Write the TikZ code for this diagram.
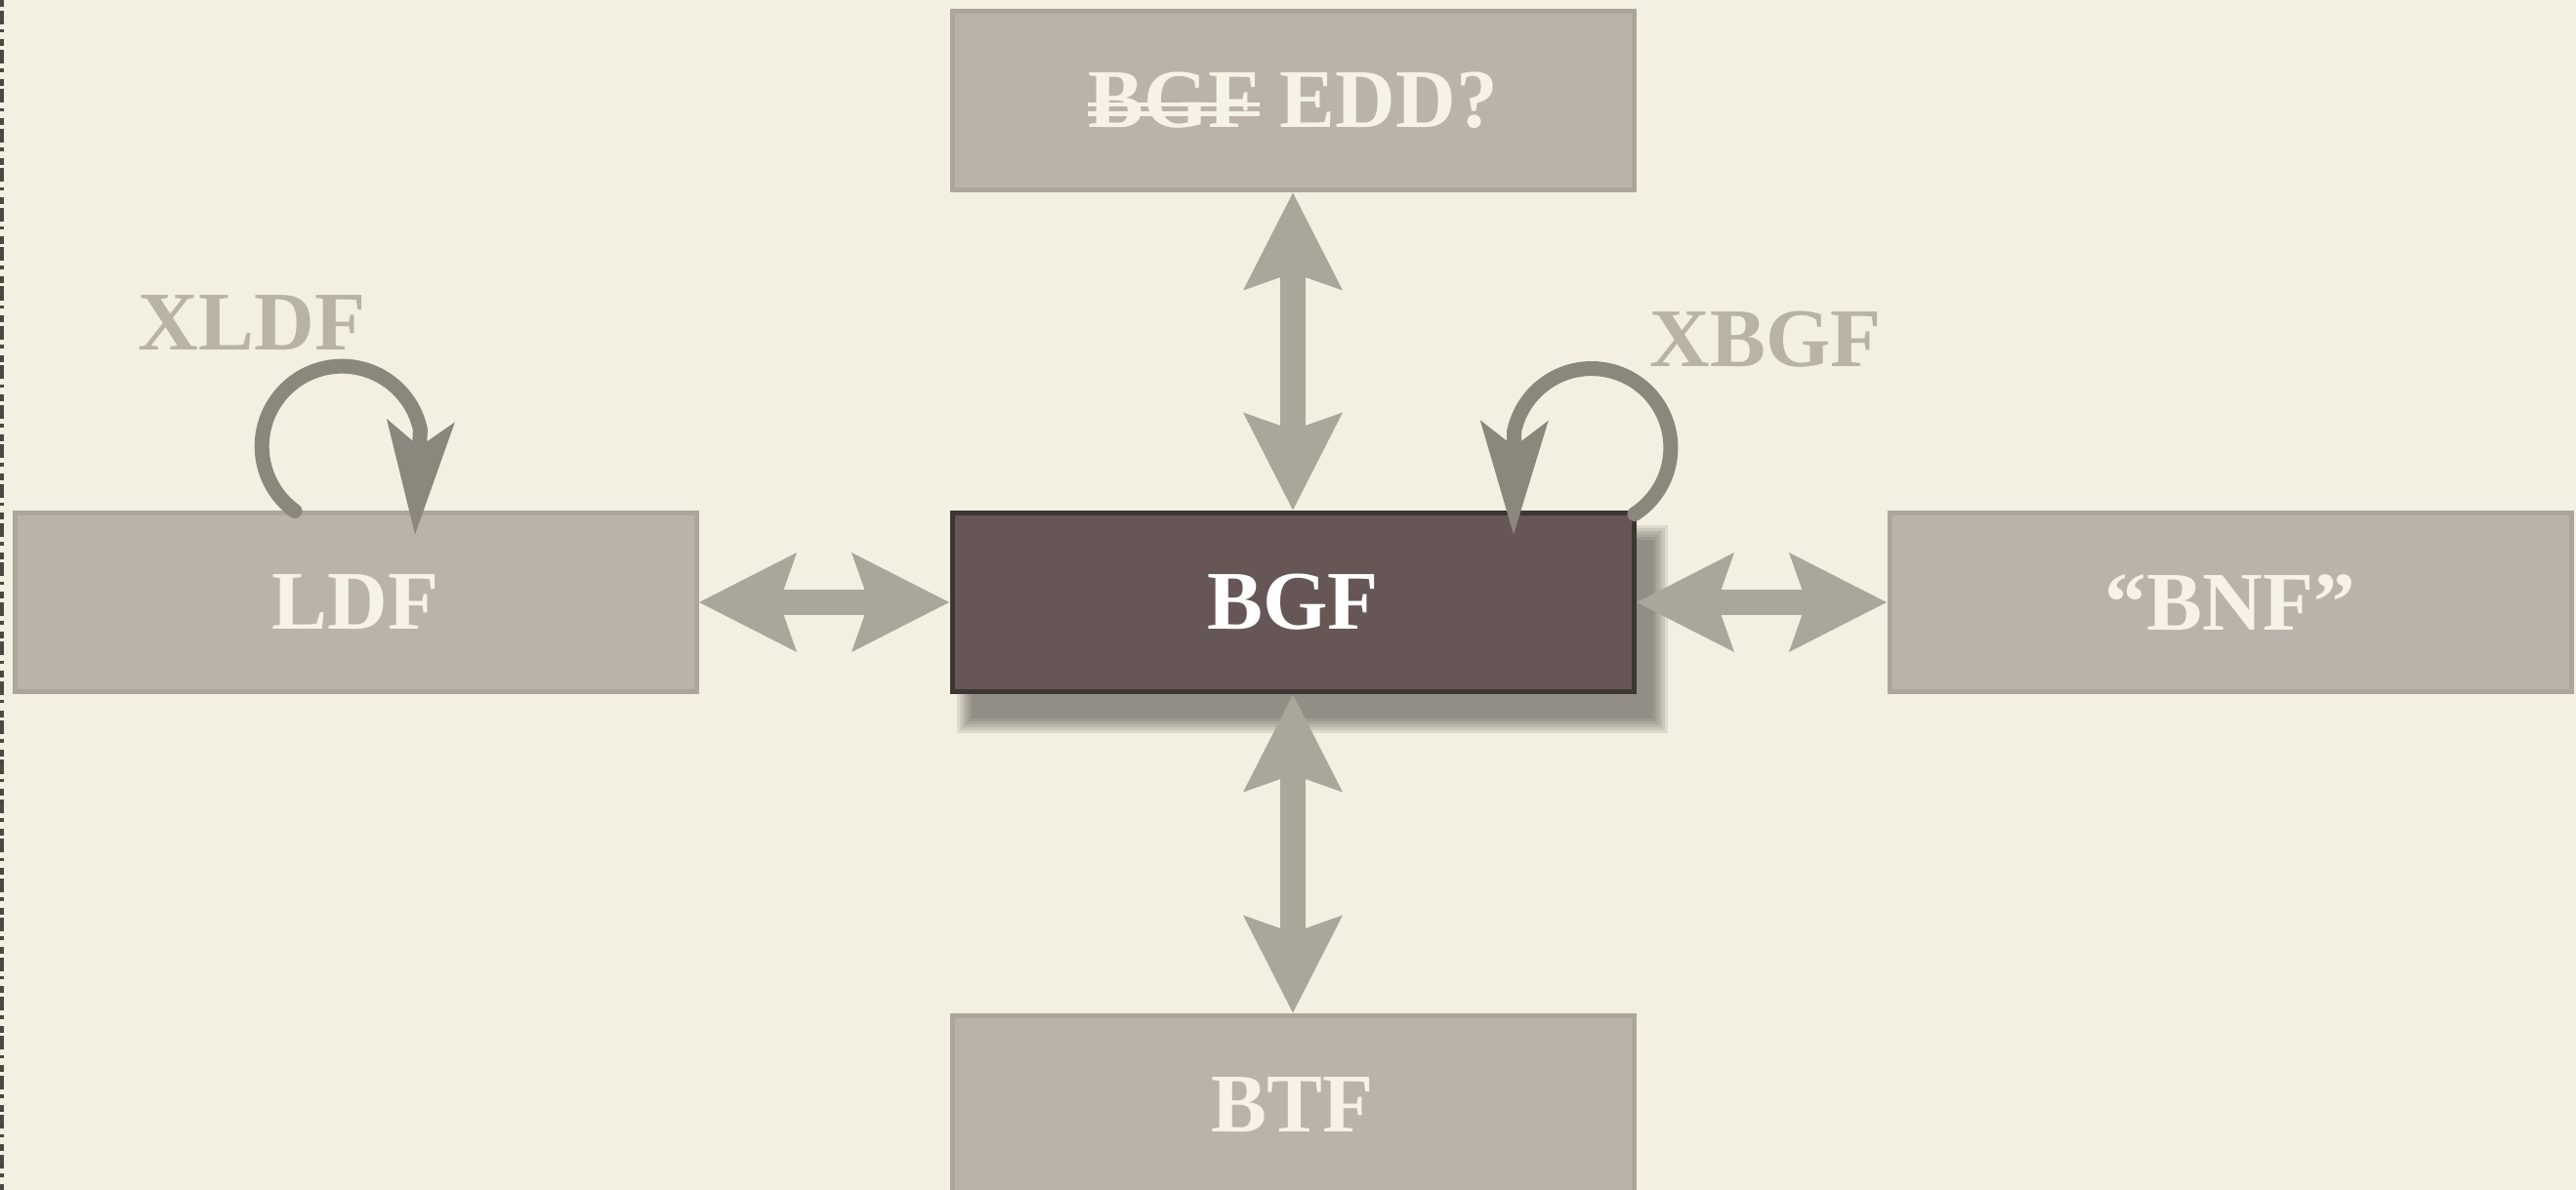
\documentclass[tikz,border=0pt]{standalone}
\usepackage{fontspec}
\setmainfont{Liberation Serif}
\usetikzlibrary{positioning,arrows.meta,backgrounds}

\definecolor{paper}{HTML}{F3EFE1}
\definecolor{boxfill}{HTML}{BBB3A9}
\definecolor{boxline}{HTML}{ADA59B}
\definecolor{boxtext}{HTML}{F6F2E6}
\definecolor{mainfill}{HTML}{665656}
\definecolor{mainline}{HTML}{3D3633}
\definecolor{arrowgray}{HTML}{AAA69A}
\definecolor{loopgray}{HTML}{8A877C}
\definecolor{taggray}{HTML}{B8B3A4}
\definecolor{edgegray}{HTML}{4A4844}
\definecolor{shadowcol}{HTML}{3A352C}

\newcommand\dblstrike[1]{\setbox0\hbox{#1}\rlap{\rule[0.14em]{\wd0}{0.05em}}\rlap{\rule[0.25em]{\wd0}{0.05em}}\box0\relax}

\tikzset{
  lang/.style={draw=boxline, fill=boxfill, line width=0.5mm, minimum width=6.98cm, minimum height=1.83cm,
    outer sep=0pt, text=boxtext, font=\fontsize{24.3}{29}\selectfont\bfseries},
  main/.style={lang, draw=mainline, fill=mainfill, text=white},
  tag/.style={text=taggray, inner sep=0pt, font=\fontsize{24.3}{29}\selectfont\bfseries},
  dbl/.style={draw=arrowgray, line width=2.6mm, shorten <=0.03cm, shorten >=0.03cm,
    {Stealth[length=10mm,width=10.2mm,inset=1.8mm,line width=0pt]}-{Stealth[length=10mm,width=10.2mm,inset=1.8mm,line width=0pt]}},
  selfloop/.style={draw=loopgray, line width=1.5mm, line cap=round,
    -{Stealth[length=11.7mm,width=7mm,inset=2.7mm,line width=0pt]}}
}

\begin{document}
\begin{tikzpicture}
\useasboundingbox (0,0) rectangle (26.38,-12.19);

\node[main] (bgf) at (13.24,-6.17) {BGF};
\node[lang, left=2.62cm of bgf] (ldf) {LDF};
\node[lang, right=2.62cm of bgf] (bnf) {``BNF''};
\node[lang, above=3.31cm of bgf] (edd) {\dblstrike{BGF} EDD?};
\node[lang, below=3.32cm of bgf] (btf) {BTF};

\begin{scope}[on background layer]
  \fill[paper] (0,0) rectangle (26.38,-12.19);
  \draw[edgegray, line width=0.45mm, dash pattern=on 2pt off 1pt on 4pt off 1.5pt on 1pt off 2pt] (0.02,0) -- (0.02,-12.19);
  \foreach \b in {0,0.03,...,0.16}
    \fill[shadowcol, opacity=0.11] ([shift={(0.2-\b,-0.28-\b)}]bgf.south west) rectangle ([shift={(0.2+\b,-0.28+\b)}]bgf.north east);
\end{scope}

\draw[dbl] (ldf) -- (bgf);
\draw[dbl] (bgf) -- (bnf);
\draw[dbl] (edd) -- (bgf);
\draw[dbl] (bgf) -- (btf);

\draw[selfloop] ([shift={(-0.62,0.02)}]ldf.north) arc[start angle=234, end angle=12, radius=0.82] -- ([shift={(0.61,-0.22)}]ldf.north);
\draw[selfloop] ([shift={(0.01,-0.01)}]bgf.north east) arc[start angle=-57, end angle=168, radius=0.81] -- ([shift={(-1.23,-0.22)}]bgf.north east);

\node[tag] (xldf) at ([shift={(-1.06,1.95)}]ldf.north) {XLDF};
\node[tag] (xbgf) at ([shift={(1.35,1.78)}]bgf.north east) {XBGF};
\end{tikzpicture}
\end{document}
